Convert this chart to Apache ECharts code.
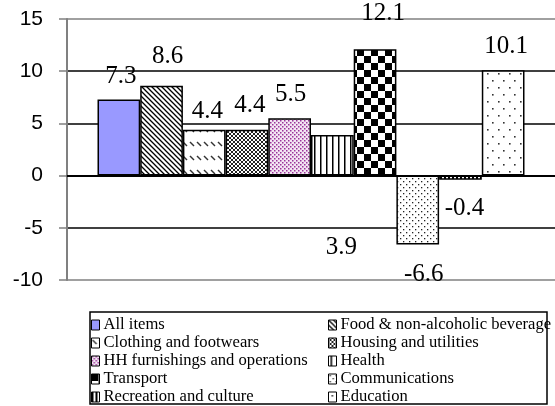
<!DOCTYPE html>
<html>
<head>
<meta charset="utf-8">
<script src="https://cdn.jsdelivr.net/npm/echarts@6/dist/echarts.min.js"></script>
<style>
  html, body { margin: 0; padding: 0; background: #fff; }
  #chart { width: 555px; height: 406px; }
</style>
</head>
<body>
<div id="chart"></div>
<script>
// categories and values
const categories = [
  'All items', 'Food & non-alcoholic beverage', 'Clothing and footwears',
  'Housing and utilities', 'HH furnishings and operations', 'Health',
  'Transport', 'Communications', 'Recreation and culture', 'Education'
];
const values = [7.3, 8.6, 4.4, 4.4, 5.5, 3.9, 12.1, -6.6, -0.4, 10.1];

// legend columns (row-wise order in the picture)
const legendLeft = ['All items', 'Clothing and footwears', 'HH furnishings and operations', 'Transport', 'Recreation and culture'];
const legendRight = ['Food & non-alcoholic beverage', 'Housing and utilities', 'Health', 'Communications', 'Education'];

// label offsets from bar centre (labels were dragged around in the original)
const labelOffsets = [[2, -61], [6, -74], [3, -41], [3, -47], [1, -52], [9, 92], [8, -99], [6, 64], [4, 31], [3, -76]];

function pattern(w, h, draw) {
  const c = document.createElement('canvas');
  c.width = w; c.height = h;
  const ctx = c.getContext('2d');
  ctx.fillStyle = '#fff';
  ctx.fillRect(0, 0, w, h);
  draw(ctx);
  return { image: c, repeat: 'repeat' };
}

function dots(ctx, pts, col, r) {
  ctx.fillStyle = col;
  pts.forEach(function (p) { ctx.fillRect(p[0], p[1], r, r); });
}

const fills = [
  '#9999FF',
  // food: dense downward diagonals
  pattern(5, 5, function (ctx) {
    ctx.strokeStyle = '#000'; ctx.lineWidth = 1.3;
    ctx.beginPath();
    ctx.moveTo(-1, -1); ctx.lineTo(6, 6);
    ctx.moveTo(-1, 4); ctx.lineTo(1, 6);
    ctx.moveTo(4, -1); ctx.lineTo(6, 1);
    ctx.stroke();
  }),
  // clothing: rows of short diagonal dashes
  pattern(7, 14, function (ctx) {
    ctx.strokeStyle = '#333'; ctx.lineWidth = 1.5;
    ctx.beginPath();
    ctx.moveTo(1, 2); ctx.lineTo(5, 6);
    ctx.stroke();
  }),
  // housing: dark mesh
  pattern(4, 4, function (ctx) {
    ctx.strokeStyle = '#222'; ctx.lineWidth = 1;
    ctx.beginPath();
    ctx.moveTo(-1, -1); ctx.lineTo(5, 5);
    ctx.moveTo(5, -1); ctx.lineTo(-1, 5);
    ctx.stroke();
  }),
  // HH furnishings: purple dots
  pattern(4, 4, function (ctx) {
    ctx.fillStyle = '#f3e6f3'; ctx.fillRect(0, 0, 4, 4);
    dots(ctx, [[0, 0], [2, 2]], '#993399', 1.5);
  }),
  // health: vertical lines
  pattern(6.5, 6, function (ctx) {
    ctx.fillStyle = '#000'; ctx.fillRect(2, 0, 1.5, 6);
  }),
  // transport: checkerboard
  pattern(14, 14, function (ctx) {
    ctx.fillStyle = '#000';
    ctx.fillRect(0, 0, 7, 7); ctx.fillRect(7, 7, 7, 7);
  }),
  // communications: small dots
  pattern(6, 6, function (ctx) {
    dots(ctx, [[1, 1], [4, 4]], '#222', 1.3);
  }),
  // recreation
  pattern(4, 4, function (ctx) {
    ctx.fillStyle = '#000'; ctx.fillRect(0, 0, 2, 4);
  }),
  // education: sparse dots
  pattern(11, 14, function (ctx) {
    dots(ctx, [[3, 3], [8, 10]], '#333', 1.6);
  })
];

const series = categories.map(function (name, i) {
  return {
    name: name,
    type: 'bar',
    barGap: '0%',
    barCategoryGap: '12.5%',
    data: [values[i]],
    itemStyle: { color: fills[i], borderColor: '#000', borderWidth: 1.5 },
    label: {
      show: true,
      position: 'inside',
      offset: labelOffsets[i],
      color: '#000',
      fontFamily: 'Liberation Serif',
      fontSize: 25,
      formatter: function (p) { return p.value.toFixed(1); }
    }
  };
});

function legend(left, data) {
  return {
    orient: 'vertical',
    left: left,
    top: 316,
    height: 95,
    padding: 0,
    itemGap: 0,
    itemWidth: 8,
    itemHeight: 10,
    icon: 'rect',
    selectedMode: false,
    itemStyle: { borderColor: '#000', borderWidth: 1 },
    textStyle: { fontFamily: 'Liberation Serif', fontSize: 16.6, color: '#000', lineHeight: 18, padding: [0, 0, 0, -1] },
    data: data
  };
}

const chart = echarts.init(document.getElementById('chart'), null, { renderer: 'canvas' });
chart.setOption({
  backgroundColor: '#fff',
  animation: false,
  grid: { left: 67, right: -6, top: 19, bottom: 126 },
  xAxis: {
    type: 'category',
    data: ['CPI'],
    axisLine: { onZero: true, lineStyle: { color: '#000', width: 2 } },
    axisTick: { show: false },
    axisLabel: { show: false }
  },
  yAxis: {
    type: 'value',
    min: -10,
    max: 15,
    interval: 5,
    axisLine: { show: true, lineStyle: { color: '#808080', width: 2 } },
    axisTick: { show: true, length: 8, lineStyle: { color: '#808080', width: 1.5 } },
    axisLabel: { color: '#000', fontFamily: 'Liberation Sans', fontSize: 21, margin: 24, padding: [5, 0, 0, 0] },
    splitLine: {
      lineStyle: {
        color: ['#808080', '#000', '#000', '#000', '#000', '#808080'],
        width: 1.5
      }
    }
  },
  legend: [legend(91, legendLeft), legend(328, legendRight)],
  graphic: [{
    type: 'rect',
    shape: { x: 90, y: 312, width: 457, height: 92 },
    style: { fill: 'none', stroke: '#000', lineWidth: 1.5 },
    z: 100
  }],
  series: series
});
</script>
</body>
</html>
